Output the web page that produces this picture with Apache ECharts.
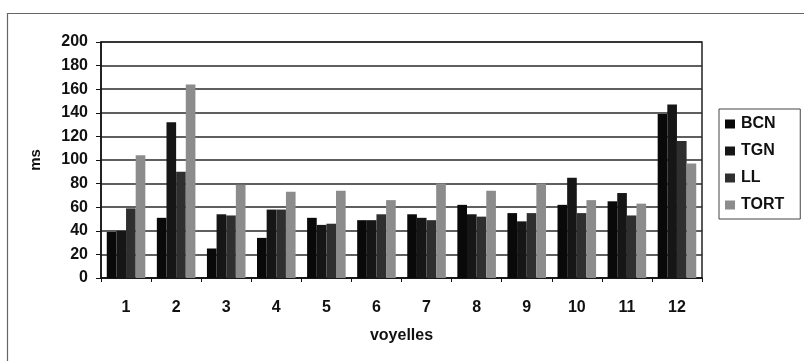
<!DOCTYPE html>
<html><head><meta charset="utf-8">
<script src="https://cdn.jsdelivr.net/npm/echarts@6/dist/echarts.min.js"></script>
<style>html,body{margin:0;padding:0;background:#fff}#c{width:804px;height:361px}</style>
</head><body><div id="c"></div>
<script>
const categories = ['1','2','3','4','5','6','7','8','9','10','11','12'];
const BCN  = [39, 51, 25, 34, 51, 49, 54, 62, 55, 62, 65, 139];
const TGN  = [40, 132, 54, 58, 45, 49, 51, 54, 48, 85, 72, 147];
const LL   = [59, 90, 53, 58, 46, 54, 49, 52, 55, 55, 53, 116];
const TORT = [104, 164, 79, 73, 74, 66, 80, 74, 80, 66, 63, 97];
const seriesNames = ['BCN','TGN','LL','TORT'];
const seriesData = [BCN, TGN, LL, TORT];
const colors = ['#090909','#161616','#2f2f2f','#8c8c8c'];
const font = 'Liberation Sans, Arial, sans-serif';

const chart = echarts.init(document.getElementById('c'));
chart.setOption({
  animation: false,
  backgroundColor: '#fff',
  graphic: [{type:'rect', shape:{x:7.5, y:13.5, width:830, height:400}, style:{fill:'none', stroke:'#666', lineWidth:1.2}, z:-1}],
  grid: {left:101, right:102, top:42, bottom:83, show:true, borderColor:'#222', borderWidth:1.5, backgroundColor:'transparent'},
  legend: {
    orient:'vertical', left:719, top:109,
    data: seriesNames,
    icon:'rect', itemWidth:10, itemHeight:9, itemGap:11,
    padding:[7,16,6,6],
    borderColor:'#444', borderWidth:1,
    textStyle:{fontFamily:font, fontWeight:'bold', fontSize:16, color:'#111', padding:[0,0,0,1]}
  },
  xAxis: {
    type:'category', data:categories,
    name:'voyelles', nameLocation:'middle', nameGap:50,
    nameTextStyle:{fontFamily:font, fontWeight:'bold', fontSize:16, color:'#111'},
    axisLine:{lineStyle:{color:'#111', width:1.5}},
    axisTick:{show:true, length:4, lineStyle:{color:'#111'}},
    axisLabel:{fontFamily:font, fontWeight:'bold', fontSize:16, color:'#111', margin:22}
  },
  yAxis: {
    type:'value', min:0, max:200, interval:20,
    name:'ms', nameLocation:'middle', nameGap:58, nameRotate:90,
    nameTextStyle:{fontFamily:font, fontWeight:'bold', fontSize:15, color:'#111'},
    axisLine:{show:true, lineStyle:{color:'#111', width:1.5}},
    axisTick:{show:true, length:5, lineStyle:{color:'#111'}},
    axisLabel:{fontFamily:font, fontWeight:'bold', fontSize:16, color:'#111', margin:13},
    splitLine:{lineStyle:{color:'#2a2a2a', width:1.5}}
  },
  series: seriesNames.map((n,i)=>({
    name:n, type:'bar', data:seriesData[i],
    barGap:'0%', barCategoryGap:'23%',
    itemStyle:{color:colors[i]}
  }))
});
</script></body></html>
